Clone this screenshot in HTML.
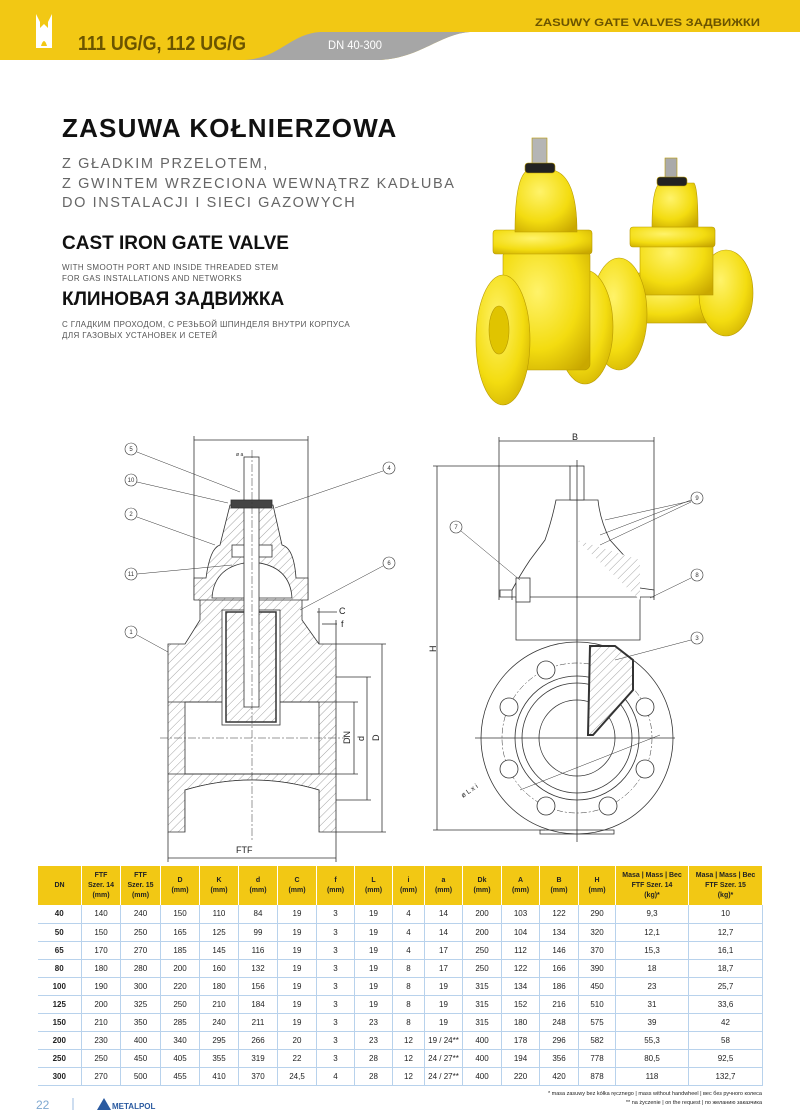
<!DOCTYPE html>
<html><head><meta charset="utf-8"><style>
*{margin:0;padding:0;box-sizing:border-box}
body{width:800px;height:1114px;background:#fff;position:relative;overflow:hidden;font-family:"Liberation Sans","DejaVu Sans",sans-serif}
.a{position:absolute;white-space:nowrap}
table{position:absolute;left:37px;top:866px;border-collapse:collapse;font-family:"Liberation Sans",sans-serif;font-size:7.5px;font-weight:bold;color:#222;table-layout:fixed}
td,th{text-align:center;padding:0;border-left:1px solid #b8d2ec;border-right:1px solid #b8d2ec}
th{background:#f2c814;height:39px;line-height:10px;font-size:7px;border-color:#fff}
td{height:18px;border-bottom:1px solid #b8d2ec;font-weight:normal;font-size:8px}
td:first-child{font-weight:bold;border-left:none}
</style></head><body>
<svg class="a" style="left:0;top:0" width="800" height="1114" viewBox="0 0 800 1114">
<defs>
<pattern id="h" width="6" height="6" patternUnits="userSpaceOnUse" patternTransform="rotate(45)"><rect width="6" height="6" fill="#fff"/><line x1="0" y1="0" x2="0" y2="6" stroke="#666" stroke-width="0.6"/></pattern>
<radialGradient id="y" cx="0.4" cy="0.35" r="0.8"><stop offset="0" stop-color="#fff36a"/><stop offset="0.6" stop-color="#f3dc10"/><stop offset="1" stop-color="#c9a800"/></radialGradient>
</defs>
<!-- header -->
<rect x="0" y="0" width="800" height="32" fill="#f2c814"/>
<path d="M0 32 H470 C440 34 420 58 380 60 L0 60 Z" fill="#f2c814"/>
<path d="M245 60 C280 58 290 34 320 32 L470 32 C440 34 420 58 380 60 Z" fill="#a6a6a6"/>
<path d="M36 14 L40 22 V28 L44 24 L48 28 V22 L52 14 L52 48 H36 Z" fill="#fff"/>
<path d="M41 46 Q44 36 47 46 Z" fill="#f2c814"/>
<text x="78" y="50" font-size="20" font-weight="bold" fill="#6b5400" font-family="Liberation Sans" textLength="168" lengthAdjust="spacingAndGlyphs">111 UG/G, 112 UG/G</text>
<text x="328" y="49" font-size="12" fill="#fff" font-family="Liberation Sans" textLength="54" lengthAdjust="spacingAndGlyphs">DN 40-300</text>
<text x="535" y="26" font-size="11" font-weight="bold" fill="#6b5400" font-family="Liberation Sans" textLength="225" lengthAdjust="spacingAndGlyphs">ZASUWY   GATE VALVES   ЗАДВИЖКИ</text>

<!-- photo valve 2 -->
<g stroke="#b89a00" stroke-width="0.6">
<rect x="627" y="273" width="90" height="50" fill="url(#y)"/>
<ellipse cx="726" cy="293" rx="27" ry="43" fill="url(#y)"/>
<rect x="640" y="230" width="73" height="65" fill="url(#y)"/>
<rect x="630" y="227" width="85" height="20" rx="3" fill="url(#y)"/>
<path d="M652 227 Q652 188 660 183 H694 Q698 188 698 227 Z" fill="url(#y)"/>
<rect x="665" y="158" width="12" height="22" fill="#aaa"/>
<rect x="657" y="177" width="30" height="9" rx="3" fill="#222"/>
<ellipse cx="619" cy="314" rx="28" ry="56" fill="url(#y)"/>
<!-- valve 1 -->
<ellipse cx="585" cy="327" rx="28" ry="57" fill="url(#y)"/>
<rect x="503" y="250" width="87" height="120" rx="6" fill="url(#y)"/>
<rect x="493" y="230" width="99" height="24" rx="3" fill="url(#y)"/>
<path d="M515 232 Q515 176 528 170 H553 Q577 176 577 232 Z" fill="url(#y)"/>
<rect x="532" y="138" width="15" height="28" fill="#b5b5b5"/>
<rect x="525" y="163" width="30" height="10" rx="3" fill="#222"/>
<ellipse cx="503" cy="340" rx="27" ry="65" fill="url(#y)"/>
<ellipse cx="499" cy="330" rx="10" ry="24" fill="#e0c400"/>
</g>

<!-- left drawing -->
<g stroke="#333" stroke-width="0.8" fill="none">
<line x1="194" y1="440" x2="308" y2="440"/><line x1="194" y1="436" x2="194" y2="600"/><line x1="308" y1="436" x2="308" y2="600"/>
<path d="M168 644 H185 L200 620 V598 H302 V620 L319 644 H336 V832 H319 V790 Q252 770 185 790 V832 H168 Z" fill="url(#h)"/>
<rect x="185" y="702" width="134" height="72" fill="#fff"/>
<line x1="168" y1="702" x2="336" y2="702"/><line x1="168" y1="774" x2="336" y2="774"/>
<path d="M185 790 Q252 770 319 790 V832 H185 Z" fill="#fff" stroke="none"/>
<path d="M185 832 V790 Q252 770 319 790 V832"/>
<path d="M194 600 V578 H206 Q210 548 220 545 L230 505 H273 L282 545 Q294 548 296 578 H308 V600 Z" fill="url(#h)"/>
<path d="M212 598 Q214 565 252 562 Q290 565 292 598 Z" fill="#fff"/>
<rect x="222" y="610" width="58" height="115" fill="#fff"/>
<rect x="226" y="612" width="50" height="110" fill="url(#h)" stroke-width="1.5"/>
<rect x="232" y="545" width="40" height="12" fill="#fff"/>
<rect x="244" y="457" width="15" height="250" fill="#fff"/>
<rect x="231" y="500" width="41" height="8" fill="#444"/>
<line x1="252" y1="450" x2="252" y2="840" stroke-dasharray="8 2 2 2" stroke-width="0.5"/>
<line x1="160" y1="738" x2="345" y2="738" stroke-dasharray="8 2 2 2" stroke-width="0.5"/>
<line x1="168" y1="858" x2="336" y2="858"/><line x1="168" y1="832" x2="168" y2="862"/><line x1="336" y1="832" x2="336" y2="862"/>
<line x1="382" y1="644" x2="382" y2="832"/><line x1="336" y1="644" x2="386" y2="644"/><line x1="336" y1="832" x2="386" y2="832"/>
<line x1="367" y1="677" x2="367" y2="800"/><line x1="336" y1="677" x2="371" y2="677"/><line x1="336" y1="800" x2="371" y2="800"/>
<line x1="354" y1="702" x2="354" y2="774"/><line x1="336" y1="702" x2="358" y2="702"/><line x1="336" y1="774" x2="358" y2="774"/>
<line x1="317" y1="612" x2="337" y2="612"/><line x1="322" y1="624" x2="337" y2="624"/><line x1="319" y1="608" x2="319" y2="644"/><line x1="336" y1="620" x2="336" y2="644"/>
<g stroke-width="0.5"><line x1="137" y1="452" x2="240" y2="492"/><line x1="137" y1="482" x2="228" y2="503"/><line x1="137" y1="517" x2="215" y2="545"/><line x1="137" y1="574" x2="232" y2="565"/><line x1="137" y1="635" x2="168" y2="652"/><line x1="383" y1="471" x2="275" y2="508"/><line x1="383" y1="566" x2="300" y2="610"/></g>
</g>
<g font-size="6" text-anchor="middle" font-family="Liberation Sans" fill="#333">
<g fill="#fff" stroke="#333" stroke-width="0.6"><circle cx="131" cy="449" r="6"/><circle cx="131" cy="480" r="6"/><circle cx="131" cy="514" r="6"/><circle cx="131" cy="574" r="6"/><circle cx="131" cy="632" r="6"/><circle cx="389" cy="468" r="6"/><circle cx="389" cy="563" r="6"/>
<circle cx="456" cy="527" r="6"/><circle cx="697" cy="498" r="6"/><circle cx="697" cy="575" r="6"/><circle cx="697" cy="638" r="6"/></g>
<text x="131" y="451">5</text><text x="131" y="482">10</text><text x="131" y="516">2</text><text x="131" y="576">11</text><text x="131" y="634">1</text><text x="389" y="470">4</text><text x="389" y="565">6</text>
<text x="456" y="529">7</text><text x="697" y="500">9</text><text x="697" y="577">8</text><text x="697" y="640">3</text>
</g>
<g font-family="Liberation Sans" font-size="9" fill="#222">
<text x="236" y="853">FTF</text><text x="339" y="614">C</text><text x="341" y="627">f</text>
<text x="236" y="456" font-size="5">ø a</text>
<text transform="translate(350,744) rotate(-90)">DN</text><text transform="translate(364,741) rotate(-90)">d</text><text transform="translate(379,741) rotate(-90)">D</text>
<text x="572" y="440">B</text><text transform="translate(436,652) rotate(-90)">H</text><text x="580" y="760" font-size="8">ø K</text>
<text transform="translate(463,798) rotate(-35)" font-size="7">ø L x i</text>
</g>

<!-- right drawing -->
<g stroke="#333" stroke-width="0.8" fill="none">
<line x1="499" y1="441" x2="654" y2="441"/><line x1="499" y1="437" x2="499" y2="600"/><line x1="654" y1="437" x2="654" y2="600"/>
<line x1="437" y1="466" x2="437" y2="830"/><line x1="433" y1="466" x2="570" y2="466"/><line x1="433" y1="830" x2="545" y2="830"/>
<path d="M512 600 V590 H500 V597 H654 V590 L640 588 Q634 580 628 560 L610 540 Q600 520 598 500 H556 Q552 520 545 540 L530 560 Q520 575 512 590" fill="#fff"/>
<path d="M516 597 V640 H640 V597" />
<path d="M577 540 L640 560 V600 Z" fill="url(#h)" stroke="none"/>
<circle cx="577" cy="738" r="96" fill="#fff"/>
<circle cx="577" cy="738" r="62"/>
<circle cx="577" cy="738" r="55"/>
<circle cx="577" cy="738" r="38"/>
<circle cx="577" cy="738" r="75" stroke-dasharray="6 2 2 2" stroke-width="0.5"/>
<g fill="#fff"><circle cx="546" cy="670" r="9"/><circle cx="608" cy="670" r="9"/><circle cx="509" cy="707" r="9"/><circle cx="645" cy="707" r="9"/><circle cx="509" cy="769" r="9"/><circle cx="645" cy="769" r="9"/><circle cx="546" cy="806" r="9"/><circle cx="608" cy="806" r="9"/></g>
<path d="M590 646 H615 L633 660 V690 L593 735 H588 Z" fill="url(#h)" stroke-width="2"/>
<rect x="570" y="466" width="14" height="34" fill="#fff"/>
<rect x="516" y="578" width="14" height="24" fill="#fff"/>
<line x1="577" y1="460" x2="577" y2="842"/>
<line x1="475" y1="738" x2="675" y2="738"/>
<rect x="540" y="830" width="74" height="4"/>
<g stroke-width="0.5"><line x1="461" y1="531" x2="520" y2="580"/><line x1="691" y1="501" x2="605" y2="520"/><line x1="691" y1="500" x2="600" y2="535"/><line x1="691" y1="502" x2="600" y2="545"/><line x1="691" y1="578" x2="650" y2="598"/><line x1="691" y1="640" x2="615" y2="660"/><line x1="520" y1="790" x2="660" y2="735"/></g>
</g>

<!-- footer -->
<text x="36" y="1109" font-size="12" fill="#7fa8d0" font-family="Liberation Sans">22</text>
<line x1="73" y1="1098" x2="73" y2="1110" stroke="#9bbbe0"/>
<path d="M97 1110 L104 1098 L111 1110 Z" fill="#2a5aa0"/>
<text x="112" y="1109" font-size="8" font-weight="bold" fill="#2a5aa0" font-family="Liberation Sans">METALPOL</text>
<text x="762" y="1095" font-size="5.5" fill="#222" text-anchor="end" font-family="Liberation Sans">* masa zasuwy bez kółka ręcznego | mass without handwheel | вес без ручного колеса</text>
<text x="762" y="1104" font-size="5.5" fill="#222" text-anchor="end" font-family="Liberation Sans">** na życzenie | on the request | по желанию заказчика</text>
</svg>

<div class="a" style="left:62px;top:113px;font-size:26px;font-weight:bold;color:#111;letter-spacing:1.2px">ZASUWA KOŁNIERZOWA</div>
<div class="a" style="left:62px;top:155px;font-size:14.5px;color:#666;line-height:19.5px;letter-spacing:1.6px">Z GŁADKIM PRZELOTEM,<br>Z GWINTEM WRZECIONA WEWNĄTRZ KADŁUBA<br>DO INSTALACJI I SIECI GAZOWYCH</div>
<div class="a" style="left:62px;top:233px;font-size:19px;font-weight:bold;color:#111">CAST IRON GATE VALVE</div>
<div class="a" style="left:62px;top:262px;font-size:8px;color:#555;line-height:11px;letter-spacing:0.4px">WITH SMOOTH PORT AND INSIDE THREADED STEM<br>FOR GAS INSTALLATIONS AND NETWORKS</div>
<div class="a" style="left:62px;top:289px;font-size:19px;font-weight:bold;color:#111">КЛИНОВАЯ ЗАДВИЖКА</div>
<div class="a" style="left:62px;top:319px;font-size:8px;color:#555;line-height:11px;letter-spacing:0.4px">С ГЛАДКИМ ПРОХОДОМ, С РЕЗЬБОЙ ШПИНДЕЛЯ ВНУТРИ КОРПУСА<br>ДЛЯ ГАЗОВЫХ УСТАНОВЕК И СЕТЕЙ</div>

<table>
<colgroup><col style="width:44px"><col style="width:39px"><col style="width:40px"><col style="width:39px"><col style="width:39px"><col style="width:39px"><col style="width:39px"><col style="width:38px"><col style="width:38px"><col style="width:32px"><col style="width:38px"><col style="width:39px"><col style="width:38px"><col style="width:39px"><col style="width:37px"><col style="width:73px"><col style="width:74px"></colgroup>
<tr><th>DN</th><th>FTF<br>Szer. 14<br>(mm)</th><th>FTF<br>Szer. 15<br>(mm)</th><th>D<br>(mm)</th><th>K<br>(mm)</th><th>d<br>(mm)</th><th>C<br>(mm)</th><th>f<br>(mm)</th><th>L<br>(mm)</th><th>i<br>(mm)</th><th>a<br>(mm)</th><th>Dk<br>(mm)</th><th>A<br>(mm)</th><th>B<br>(mm)</th><th>H<br>(mm)</th><th>Masa | Mass | Вес<br>FTF Szer. 14<br>(kg)*</th><th>Masa | Mass | Вес<br>FTF Szer. 15<br>(kg)*</th></tr>
<tr><td>40</td><td>140</td><td>240</td><td>150</td><td>110</td><td>84</td><td>19</td><td>3</td><td>19</td><td>4</td><td>14</td><td>200</td><td>103</td><td>122</td><td>290</td><td>9,3</td><td>10</td></tr>
<tr><td>50</td><td>150</td><td>250</td><td>165</td><td>125</td><td>99</td><td>19</td><td>3</td><td>19</td><td>4</td><td>14</td><td>200</td><td>104</td><td>134</td><td>320</td><td>12,1</td><td>12,7</td></tr>
<tr><td>65</td><td>170</td><td>270</td><td>185</td><td>145</td><td>116</td><td>19</td><td>3</td><td>19</td><td>4</td><td>17</td><td>250</td><td>112</td><td>146</td><td>370</td><td>15,3</td><td>16,1</td></tr>
<tr><td>80</td><td>180</td><td>280</td><td>200</td><td>160</td><td>132</td><td>19</td><td>3</td><td>19</td><td>8</td><td>17</td><td>250</td><td>122</td><td>166</td><td>390</td><td>18</td><td>18,7</td></tr>
<tr><td>100</td><td>190</td><td>300</td><td>220</td><td>180</td><td>156</td><td>19</td><td>3</td><td>19</td><td>8</td><td>19</td><td>315</td><td>134</td><td>186</td><td>450</td><td>23</td><td>25,7</td></tr>
<tr><td>125</td><td>200</td><td>325</td><td>250</td><td>210</td><td>184</td><td>19</td><td>3</td><td>19</td><td>8</td><td>19</td><td>315</td><td>152</td><td>216</td><td>510</td><td>31</td><td>33,6</td></tr>
<tr><td>150</td><td>210</td><td>350</td><td>285</td><td>240</td><td>211</td><td>19</td><td>3</td><td>23</td><td>8</td><td>19</td><td>315</td><td>180</td><td>248</td><td>575</td><td>39</td><td>42</td></tr>
<tr><td>200</td><td>230</td><td>400</td><td>340</td><td>295</td><td>266</td><td>20</td><td>3</td><td>23</td><td>12</td><td>19 / 24**</td><td>400</td><td>178</td><td>296</td><td>582</td><td>55,3</td><td>58</td></tr>
<tr><td>250</td><td>250</td><td>450</td><td>405</td><td>355</td><td>319</td><td>22</td><td>3</td><td>28</td><td>12</td><td>24 / 27**</td><td>400</td><td>194</td><td>356</td><td>778</td><td>80,5</td><td>92,5</td></tr>
<tr><td>300</td><td>270</td><td>500</td><td>455</td><td>410</td><td>370</td><td>24,5</td><td>4</td><td>28</td><td>12</td><td>24 / 27**</td><td>400</td><td>220</td><td>420</td><td>878</td><td>118</td><td>132,7</td></tr>
</table>
</body></html>
